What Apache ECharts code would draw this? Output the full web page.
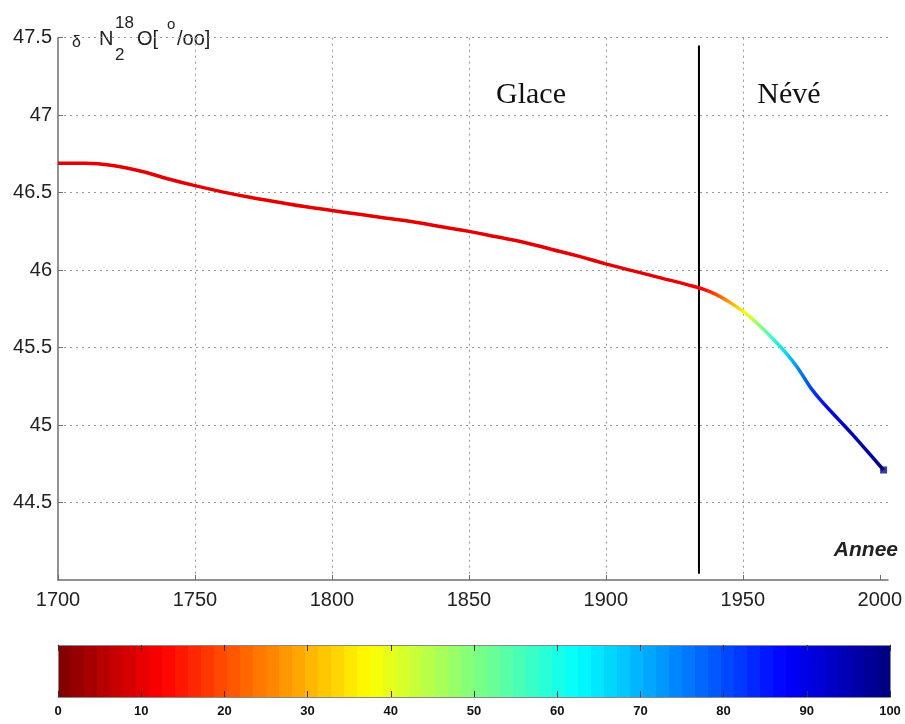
<!DOCTYPE html>
<html>
<head>
<meta charset="utf-8">
<script src="https://cdn.jsdelivr.net/npm/echarts@6/dist/echarts.min.js"></script>
<style>html,body{margin:0;padding:0;background:#fff}#chart{width:905px;height:724px}</style>
</head>
<body>
<div id="chart"></div>
<script>
// ---- data ----
const years = [1700,1710,1720,1730,1740,1750,1760,1770,1780,1790,1800,1810,1820,1830,1840,1850,1860,1870,1880,1890,1900,1910,1920,1930,1935,1940,1945,1950,1955,1960,1965,1970,1975,1980,1985,1990,1995,2001.4];
const d18O = [46.69,46.69,46.675,46.64,46.59,46.545,46.505,46.47,46.44,46.41,46.385,46.36,46.335,46.31,46.28,46.25,46.215,46.18,46.135,46.09,46.04,45.995,45.95,45.905,45.88,45.845,45.795,45.735,45.66,45.575,45.48,45.37,45.235,45.13,45.035,44.94,44.84,44.71];
const colorVals = [10,10,10,10,10,10,10,10,10,10,10,10,10,10,10,10,10,10,10,10,10,10,10,11,13,20,29,38,48,57,66,75,82,87,91,94,96,98];
const xTicks = [1700,1750,1800,1850,1900,1950,2000];
const colorbarTicks = [0,10,20,30,40,50,60,70,80,90,100];
const boundaryYear = [1934, 1934];
const boundaryRange = [44.04, 47.45];
const zoneLabels = ['Glace', 'Névé'];
const nLevels = 64;
const colorbarLevels = Array.from({length: nLevels}, (_, k) => k);

// reversed jet colormap: 0 -> dark red, 100 -> dark blue
function jet(v) {
  const t = 1 - v / 100;
  const c = x => Math.max(0, Math.min(1, x));
  const r = c(1.5 - Math.abs(4 * t - 3));
  const g = c(1.5 - Math.abs(4 * t - 2));
  const b = c(1.5 - Math.abs(4 * t - 1));
  return 'rgb(' + Math.round(r * 255) + ',' + Math.round(g * 255) + ',' + Math.round(b * 255) + ')';
}

const y0 = years[0], yN = years[years.length - 1];
const stops = years.map((y, i) => ({ offset: (y - y0) / (yN - y0), color: jet(colorVals[i]) }));

const chart = echarts.init(document.getElementById('chart'), null, { renderer: 'canvas' });
const FONT = 'Liberation Sans, Arial, sans-serif';
const gridLine = { show: true, lineStyle: { color: '#999', type: [2, 4], width: 1 } };

const option = {
  backgroundColor: '#fff',
  animation: false,
  grid: [
    { left: 58, right: 17, top: 37.7, bottom: 144, containLabel: false },
    { left: 58, right: 15, top: 645, height: 52, containLabel: false }
  ],
  xAxis: [
    {
      gridIndex: 0, type: 'value', min: 1700, max: 2003, interval: 50,
      axisLine: { show: true, lineStyle: { color: '#6e6e6e', width: 1.5 } },
      axisTick: { show: true, inside: true, length: 5, lineStyle: { color: '#6e6e6e' }, customValues: xTicks },
      axisLabel: { color: '#222', fontSize: 20, fontFamily: FONT, margin: 10, customValues: xTicks,
        formatter: v => String(v) },
      splitLine: Object.assign({ showMaxLine: false, showMinLine: false }, gridLine)
    },
    {
      gridIndex: 1, type: 'value', min: 0, max: 100, interval: 10, z: 10,
      axisLine: { show: true, onZero: false, lineStyle: { color: '#888', width: 1 } },
      axisTick: { show: true, inside: true, length: 6, lineStyle: { color: '#333' } },
      axisLabel: { color: '#111', fontSize: 13, fontWeight: 'bold', fontFamily: FONT, margin: 8,
        customValues: colorbarTicks, formatter: v => String(v) },
      splitLine: { show: false }
    },
    {
      gridIndex: 1, type: 'value', min: 0, max: 100, interval: 10, position: 'top', z: 10,
      axisLine: { show: true, onZero: false, lineStyle: { color: '#888', width: 1 } },
      axisTick: { show: true, inside: true, length: 6, lineStyle: { color: '#333' } },
      axisLabel: { show: false },
      splitLine: { show: false }
    }
  ],
  yAxis: [
    {
      gridIndex: 0, type: 'value', min: 44, max: 47.5, interval: 0.5,
      axisLine: { show: true, lineStyle: { color: '#6e6e6e', width: 1.5 } },
      axisTick: { show: true, inside: true, length: 5, lineStyle: { color: '#6e6e6e' } },
      axisLabel: { color: '#222', fontSize: 20, fontFamily: FONT, margin: 6, showMinLabel: false },
      splitLine: Object.assign({ showMinLine: false }, gridLine)
    },
    {
      gridIndex: 1, type: 'value', min: 0, max: 1, z: 10,
      axisLine: { show: true, onZero: false, lineStyle: { color: '#888', width: 1 } },
      axisTick: { show: false }, axisLabel: { show: false }, splitLine: { show: false }
    },
    {
      gridIndex: 1, type: 'value', min: 0, max: 1, position: 'right', z: 10,
      axisLine: { show: true, onZero: false, lineStyle: { color: '#888', width: 1 } },
      axisTick: { show: false }, axisLabel: { show: false }, splitLine: { show: false }
    }
  ],
  series: [
    {
      name: 'boundary', type: 'line', xAxisIndex: 0, yAxisIndex: 0,
      data: boundaryYear.map((x, i) => [x, boundaryRange[i]]),
      symbol: 'none', lineStyle: { color: '#000', width: 2 }, z: 3, silent: true
    },
    {
      name: 'd18O', type: 'line', xAxisIndex: 0, yAxisIndex: 0,
      data: years.map((y, i) => [y, d18O[i]]),
      smooth: 0.4, symbol: 'none',
      lineStyle: { width: 3.5, color: new echarts.graphic.LinearGradient(0, 0, 1, 0, stops) },
      z: 4
    },
    {
      name: 'end', type: 'scatter', xAxisIndex: 0, yAxisIndex: 0,
      data: [[years[years.length - 1], d18O[d18O.length - 1]]],
      symbol: 'rect', symbolSize: 7,
      itemStyle: { color: '#0a0a80' }, z: 5
    },
    {
      name: 'colorbar', type: 'custom', xAxisIndex: 1, yAxisIndex: 1,
      data: colorbarLevels,
      renderItem: function (params, api) {
        const k = api.value(0);
        const w = 100 / nLevels;
        const p0 = api.coord([k * w, 1]);
        const p1 = api.coord([(k + 1) * w, 0]);
        return {
          type: 'rect',
          shape: { x: p0[0], y: p0[1], width: p1[0] - p0[0] + 0.6, height: p1[1] - p0[1] },
          style: { fill: jet((k + 0.5) * w) }
        };
      },
      silent: true, z: 1
    }
  ],
  graphic: [
    { type: 'text', x: 72, y: 43, style: { text: 'δ', font: '16px ' + FONT, fill: '#222', verticalAlign: 'middle' } },
    { type: 'text', x: 99, y: 39, style: { text: 'N', font: '20px ' + FONT, fill: '#222', verticalAlign: 'middle' } },
    { type: 'text', x: 115, y: 23, style: { text: '18', font: '17px ' + FONT, fill: '#222', verticalAlign: 'middle' } },
    { type: 'text', x: 115, y: 55, style: { text: '2', font: '17px ' + FONT, fill: '#222', verticalAlign: 'middle' } },
    { type: 'text', x: 137, y: 39, style: { text: 'O[', font: '20px ' + FONT, fill: '#222', verticalAlign: 'middle' } },
    { type: 'text', x: 167, y: 25, style: { text: 'o', font: '15px ' + FONT, fill: '#222', verticalAlign: 'middle' } },
    { type: 'text', x: 177, y: 39, style: { text: '/oo]', font: '20px ' + FONT, fill: '#222', verticalAlign: 'middle' } },
    { type: 'text', x: 531, y: 95, style: { text: zoneLabels[0], font: '30px Liberation Serif, Times New Roman, serif', fill: '#111', align: 'center', verticalAlign: 'middle' } },
    { type: 'text', x: 789, y: 95, style: { text: zoneLabels[1], font: '30px Liberation Serif, Times New Roman, serif', fill: '#111', align: 'center', verticalAlign: 'middle' } },
    { type: 'text', x: 898, y: 550, style: { text: 'Annee', font: 'italic bold 21px ' + FONT, fill: '#222', align: 'right', verticalAlign: 'middle' } }
  ]
};
chart.setOption(option);
</script>
</body>
</html>
